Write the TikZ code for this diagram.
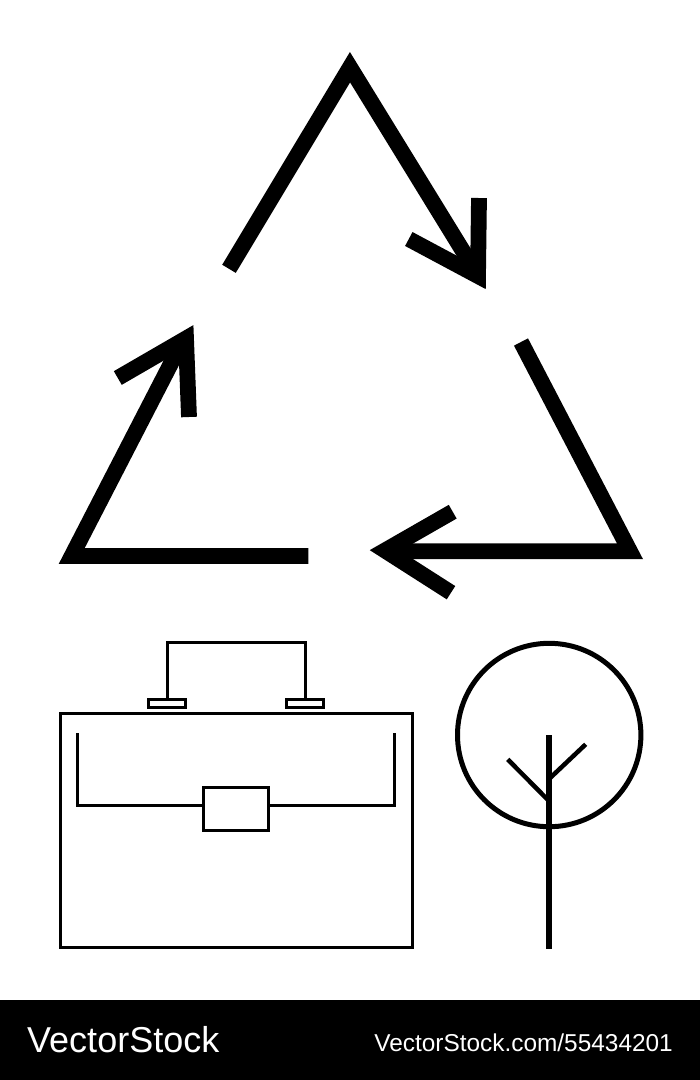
\documentclass[tikz,border=0pt]{standalone}
\usepackage{fontspec}
\setmainfont{Liberation Sans}
\begin{document}
\begin{tikzpicture}[x=1pt,y=-1pt,line join=miter,
 thick1/.style={line width=15.8pt,miter limit=10},
 thin1/.style={line width=3pt},
 treeline/.style={line width=5pt}]
\useasboundingbox (0,0) rectangle (700,1080);
\fill[white] (0,0) rectangle (700,1080);
% arrow 1
\draw[thick1] (229,268.8) -- (350,67.2) -- (474,269);
\draw[thick1] (479,198) -- (478,276) -- (408.8,239);
% arrow 2
\draw[thick1] (521,342) -- (630,551.3) -- (395,551.3);
\draw[thick1] (452.7,511.7) -- (385,550.5) -- (451,592.7);
% arrow 3
\draw[thick1] (308.3,556) -- (71.7,556) -- (180.5,345);
\draw[thick1] (117.8,378) -- (186,338.5) -- (189,417);
% case
\draw[thin1] (60,713.5) rectangle (412,947.5);
\draw[thin1] (77.4,733) -- (77.4,805.7) -- (203.8,805.7);
\draw[thin1] (394.7,733) -- (394.7,805.7) -- (268.5,805.7);
\draw[thin1] (203.8,787.2) rectangle (268.5,830.5);
\draw[thin1] (167,699) -- (167,642.3) -- (305.3,642.3) -- (305.3,699);
\draw[thin1] (148,699.8) rectangle (185.5,707.4);
\draw[thin1] (286.8,699.8) rectangle (323.8,707.4);
% tree
\draw[treeline] (549.2,735) circle[radius=91.7];
\draw[line width=5.5pt] (549,735) -- (549,949.3);
\draw[line width=4.5pt] (507.7,759.3) -- (549,801);
\draw[line width=4.5pt] (585.7,744.3) -- (549,779);
% banner
\fill[black] (0,1000) rectangle (700,1080);
\node[white,anchor=base west,font=\fontsize{36}{36}\selectfont,inner sep=0pt] (vs) at (27,1052) {VectorStock};
\node[white,anchor=base east,font=\fontsize{24.4}{24.4}\selectfont,inner sep=0pt] (url) at (673,1051) {VectorStock.com/55434201};
\end{tikzpicture}
\end{document}
